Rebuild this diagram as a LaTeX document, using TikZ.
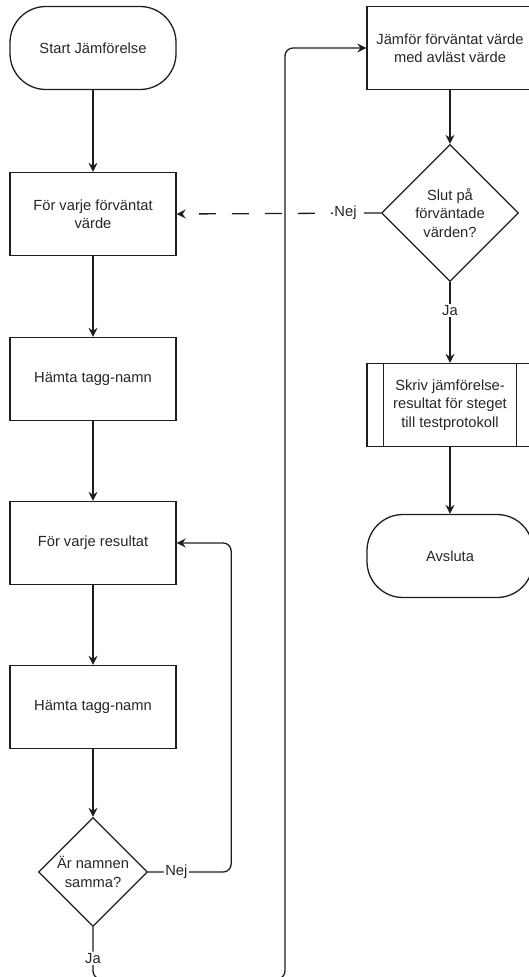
\documentclass[tikz,border=0pt]{standalone}
\usepackage{fontspec}
\setmainfont{Liberation Sans}
\usetikzlibrary{arrows.meta,shapes.geometric,calc}
\definecolor{linegray}{HTML}{1E1E1E}
\definecolor{textgray}{HTML}{262626}
\begin{document}
\begin{tikzpicture}[x=1pt,y=-1pt,
  font=\fontsize{14.7}{18.5}\selectfont,
  base/.style={draw=linegray, line width=1.3pt, text=textgray, align=center, inner sep=0pt},
  term/.style={base, minimum width=166pt, minimum height=83pt, rounded corners=36pt},
  proc/.style={base, minimum width=166pt, minimum height=83pt},
  dec/.style={base, diamond, aspect=1},
  flow/.style={draw=linegray, line width=1.3pt, -{Stealth[length=9pt,width=9pt,inset=3pt]}},
  lab/.style={fill=white, text=textgray, inner sep=1.5pt}
]
\useasboundingbox (0,0) rectangle (528,977);

% left column
\node[term] (start) at (93,48) {Start Jämförelse};
\node[proc] (exp) at (93,214) {För varje förväntat\\värde};
\node[proc] (tag1) at (93,379) {Hämta tagg-namn};
\node[proc] (res) at (93,543) {För varje resultat};
\node[proc] (tag2) at (93,707) {Hämta tagg-namn};
\node[dec, minimum size=109pt] (same) at (93,872) {Är namnen\\samma?};

% right column
\node[proc] (cmp) at (450,48) {Jämför förväntat värde\\med avläst värde};
\node[dec, minimum size=137pt] (done) at (450,213) {Slut på\\förväntade\\värden?};
\node[proc] (write) at (450,405) {Skriv jämförelse-\\resultat för steget\\till testprotokoll};
\draw[linegray, line width=1.3pt]
  ($(write.north west)+(17,0)$) -- ($(write.south west)+(17,0)$)
  ($(write.north east)+(-17,0)$) -- ($(write.south east)+(-17,0)$);
\node[term] (quit) at (450,556) {Avsluta};

% connectors
\draw[flow] (start) -- (exp);
\draw[flow] (exp) -- (tag1);
\draw[flow] (tag1) -- (res);
\draw[flow] (res) -- (tag2);
\draw[flow] (tag2) -- (same);
\draw[flow, rounded corners=8pt] (same.east) -- node[lab, pos=0.34] {Nej} ++(83,0) |- (res.east);
\coordinate (loop) at (285,979);
\draw[flow, rounded corners=8pt] (same.south) -- node[lab, pos=0.6] {Ja} (same.south |- loop) -- (loop) |- (cmp.west);
\draw[flow] (cmp) -- (done);
\draw[flow, dash pattern=on 17pt off 16pt] (done.west) -- node[lab, pos=0.173] {Nej} (exp.east);
\draw[flow] (done) -- node[lab, pos=0.35] {Ja} (write);
\draw[flow] (write) -- (quit);
\end{tikzpicture}
\end{document}
